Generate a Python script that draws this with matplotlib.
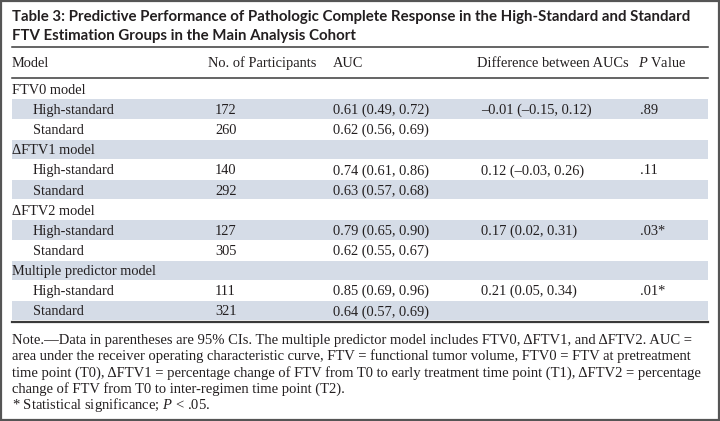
import matplotlib.pyplot as plt
from matplotlib.patches import Rectangle
from matplotlib.lines import Line2D
from matplotlib.font_manager import FontProperties
from matplotlib.textpath import TextToPath

plt.rcParams['mathtext.fontset'] = 'custom'
plt.rcParams['mathtext.it'] = 'Liberation Serif:italic'
plt.rcParams['mathtext.rm'] = 'Liberation Serif'

# table content
title_lines = ["Table 3: Predictive Performance of Pathologic Complete Response in the High-Standard and Standard",
               "FTV Estimation Groups in the Main Analysis Cohort"]
headers = ["Model", "No. of Participants", "AUC", "Difference between AUCs", "$\\it{P}$ Value"]
models = ["FTV0 model", "\u0394FTV1 model", "\u0394FTV2 model", "Multiple predictor model"]
groups = ["High-standard", "Standard"]
participants = [[172, 260], [140, 292], [127, 305], [111, 321]]
auc = [["0.61 (0.49, 0.72)", "0.62 (0.56, 0.69)"],
       ["0.74 (0.61, 0.86)", "0.63 (0.57, 0.68)"],
       ["0.79 (0.65, 0.90)", "0.62 (0.55, 0.67)"],
       ["0.85 (0.69, 0.96)", "0.64 (0.57, 0.69)"]]
diff = ["\u20130.01 (\u20130.15, 0.12)", "0.12 (\u20130.03, 0.26)", "0.17 (0.02, 0.31)", "0.21 (0.05, 0.34)"]
pvals = [".89", ".11", ".03*", ".01*"]
note_lines = [
    "Note.\u2014Data in parentheses are 95% CIs. The multiple predictor model includes FTV0, \u0394FTV1, and \u0394FTV2. AUC =",
    "area under the receiver operating characteristic curve, FTV = functional tumor volume, FTV0 = FTV at pretreatment",
    "time point (T0), \u0394FTV1 = percentage change of FTV from T0 to early treatment time point (T1), \u0394FTV2 = percentage",
    "change of FTV from T0 to inter-regimen time point (T2).",
    "* Statistical significance; $\\it{P}$ < .05."]

W, H = 720, 421
serif = "Liberation Serif"
sans = "Lato"
txt = "#231f20"
shade = "#d5dce7"
rule = "#3a3a3a"
body = 10.4
left, right = 12, 708
col_x = [12, 208, 333, 477, 638]
indent = 33
row_h = 20.15
top = 79.3


def fit_size(s, width_px, family, weight="normal"):
    # font size (pt) at which s is width_px wide at 100 dpi
    prop = FontProperties(family=family, weight=weight, size=10)
    w, _, _ = TextToPath().get_text_width_height_descent(s, prop, ismath=False)
    return 10 * width_px / (w * 100 / 72)


title_size = fit_size(title_lines[0], 678, sans, "bold")
note_size = fit_size(note_lines[0], 682, serif)

fig = plt.figure(figsize=(W / 100, H / 100), dpi=100)
ax = fig.add_axes([0, 0, 1, 1])
ax.set_xlim(0, W)
ax.set_ylim(H, 0)
ax.axis("off")

# outer frame
ax.add_patch(Rectangle((0.8, 0.8), W - 1.6, H - 1.6, fill=False, ec="#555555", lw=1.6))

# horizontal rules, drawn on the figure itself in pixel units
for y, lw in [(47, 1.1), (77.5, 1.1), (322, 1.6)]:
    fig.add_artist(Line2D([left / W, right / W], [1 - y / H, 1 - y / H],
                          transform=fig.transFigure, color=rule, lw=lw, zorder=10))

for i, line in enumerate(title_lines):
    ax.text(left, 21.5 + i * 18.5, line, fontsize=title_size, fontweight="bold", family=sans,
            color=txt, va="baseline")

for x, h in zip(col_x, headers):
    ax.text(x, 67, h, fontsize=body, family=serif, color=txt, va="baseline")

r = 0
for m in range(len(models)):
    for g in range(3):
        y0 = top + r * row_h
        if r % 2 == 1:
            ax.add_patch(Rectangle((left, y0), right - left, row_h - 0.8, color=shade, lw=0))
        yb = y0 + 14.5
        if g == 0:
            ax.text(left, yb, models[m], fontsize=body, family=serif, color=txt, va="baseline")
        else:
            k = g - 1
            ax.text(indent, yb, groups[k], fontsize=body, family=serif, color=txt, va="baseline")
            ax.text(col_x[1] + 7, yb, str(participants[m][k]), fontsize=body, family=serif,
                    color=txt, va="baseline")
            ax.text(col_x[2], yb, auc[m][k], fontsize=body, family=serif, color=txt, va="baseline")
            if k == 0:
                ax.text(col_x[3] + 4, yb, diff[m], fontsize=body, family=serif, color=txt,
                        va="baseline")
                ax.text(col_x[4] + 2, yb, pvals[m], fontsize=body, family=serif, color=txt,
                        va="baseline")
        r += 1

for i, line in enumerate(note_lines):
    ax.text(left, 344 + i * 16.2, line, fontsize=note_size, family=serif, color=txt,
            va="baseline")

fig.savefig("out.png", dpi=100)
